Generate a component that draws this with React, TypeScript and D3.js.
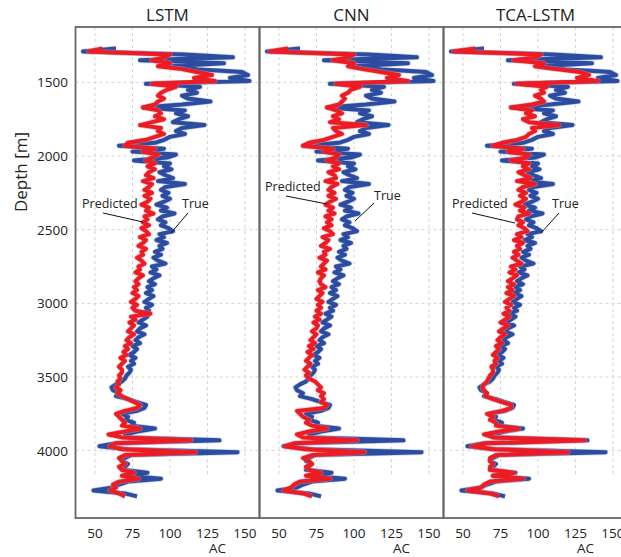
import * as d3 from 'd3';

// depth samples (m), every 20 m
const DEPTHS = d3.range(1270, 4311, 20);

const MODELS = ['LSTM', 'CNN', 'TCA-LSTM'];
const X_TICKS = [50, 75, 100, 125, 150];
const Y_TICKS = [1500, 2000, 2500, 3000, 3500, 4000];

// measured AC log
const TRUE_AC = [
  64, 42, 110, 142, 80, 136, 100, 118, 148, 152,
  140, 153, 84, 120, 112, 118, 108, 112, 127, 108,
  82, 110, 104, 112, 106, 102, 123, 108, 104, 110,
  100, 96, 90, 66, 96, 75, 104, 98, 76, 100,
  96, 101, 93, 97, 102, 92, 110, 97, 94, 99,
  95, 100, 96, 91, 98, 94, 103, 95, 92, 97,
  94, 99, 102, 93, 96, 91, 98, 93, 95, 90,
  94, 89, 92, 97, 88, 91, 87, 93, 89, 86,
  90, 85, 88, 84, 89, 86, 83, 88, 84, 86,
  81, 85, 82, 79, 84, 80, 78, 83, 79, 77,
  80, 75, 78, 76, 73, 77, 74, 76, 72, 74,
  73, 71, 70, 68, 64, 61, 62, 66, 64, 72,
  78, 84, 83, 78, 68, 72, 70, 76, 74, 90,
  78, 70, 72, 133, 64, 53, 72, 145, 74, 70,
  68, 72, 70, 68, 85, 70, 94, 72, 66, 62,
  49, 70, 78,
];

const LSTM_AC = [
  55, 46, 100, 96, 88, 100, 92, 108, 118, 128,
  116, 130, 88, 104, 98, 94, 92, 96, 92, 90,
  82, 92, 94, 90, 96, 88, 80, 94, 92, 96,
  90, 84, 72, 70, 90, 82, 92, 88, 84, 90,
  85, 90, 86, 84, 89, 82, 88, 86, 83, 88,
  83, 87, 85, 81, 86, 84, 89, 83, 85, 82,
  86, 81, 84, 86, 80, 84, 82, 79, 84, 81,
  82, 78, 81, 83, 79, 80, 77, 82, 79, 77,
  79, 76, 78, 75, 79, 77, 74, 78, 75, 77,
  87, 74, 77, 73, 76, 74, 72, 76, 73, 71,
  74, 70, 72, 69, 71, 67, 70, 68, 66, 68,
  68, 66, 67, 65, 66, 64, 67, 65, 68, 72,
  76, 80, 78, 70, 64, 66, 68, 70, 68, 80,
  70, 59, 68, 114, 64, 60, 68, 117, 70, 66,
  68, 70, 66, 68, 76, 68, 79, 66, 62, 64,
  60, 66, 70,
];

const CNN_AC = [
  56, 44, 100, 96, 86, 100, 96, 106, 118, 130,
  122, 136, 88, 104, 98, 96, 92, 94, 92, 90,
  82, 88, 92, 86, 90, 84, 108, 86, 88, 92,
  86, 80, 70, 66, 86, 80, 90, 88, 82, 90,
  86, 90, 83, 87, 88, 81, 89, 85, 83, 87,
  83, 88, 84, 81, 86, 83, 87, 81, 85, 82,
  85, 80, 84, 86, 79, 83, 81, 78, 84, 80,
  81, 77, 82, 80, 78, 81, 76, 80, 78, 77,
  78, 81, 76, 79, 77, 75, 79, 76, 78, 75,
  78, 74, 77, 73, 76, 75, 72, 75, 73, 71,
  74, 70, 73, 69, 72, 70, 68, 71, 69, 67,
  70, 68, 70, 74, 76, 78, 76, 80, 78, 80,
  78, 82, 80, 62, 64, 66, 70, 68, 72, 82,
  70, 62, 66, 102, 60, 54, 68, 107, 72, 66,
  70, 72, 68, 70, 78, 68, 84, 64, 60, 58,
  53, 66, 72,
];

const TCA_AC = [
  58, 44, 102, 98, 84, 104, 98, 112, 128, 134,
  126, 140, 86, 106, 102, 104, 98, 102, 104, 96,
  82, 96, 92, 98, 90, 94, 114, 96, 98, 94,
  92, 86, 76, 70, 90, 80, 94, 92, 82, 94,
  90, 94, 87, 91, 95, 86, 98, 90, 87, 92,
  88, 92, 89, 85, 91, 88, 94, 87, 86, 90,
  87, 91, 93, 86, 89, 84, 90, 86, 88, 84,
  87, 83, 86, 89, 82, 85, 81, 86, 83, 80,
  84, 80, 83, 79, 84, 81, 78, 82, 79, 81,
  77, 81, 78, 75, 80, 77, 74, 78, 75, 73,
  76, 72, 74, 72, 70, 73, 71, 72, 69, 70,
  70, 68, 67, 66, 64, 63, 64, 66, 65, 70,
  76, 82, 82, 76, 66, 70, 68, 72, 72, 87,
  74, 64, 70, 131, 66, 56, 70, 120, 72, 68,
  68, 70, 68, 68, 84, 70, 90, 68, 64, 62,
  53, 68, 74,
];

const PREDICTED = [LSTM_AC, CNN_AC, TCA_AC];

const W = 621;
const H = 557;
const LEFT = 75.5;
const PANEL_W = 184;
const TOP = 27;
const BOTTOM = 518;
const FONT = '"Open Sans", "Noto Sans", sans-serif';
const BLUE = '#2b4c9f';
const RED = '#ec1c24';

// leader-line annotations, per panel
const NOTES = [
  { pred: [82, 208], predLine: [103, 213, 143, 222], tru: [182, 208], truLine: [188, 213, 171, 233] },
  { pred: [265, 191], predLine: [286, 196, 327, 204], tru: [374, 200], truLine: [374, 203, 355, 221] },
  { pred: [452, 208], predLine: [472, 213, 515, 223], tru: [552, 208], truLine: [559, 213, 541, 233] },
];

const y = d3.scaleLinear().domain([1124, 4457]).range([TOP, BOTTOM]);
const x = d3.scaleLinear().domain([37, 159.7]).range([0, PANEL_W]);

const makeLine = (vals: number[]) =>
  d3.line<number>()
    .x((_, i) => x(vals[i]))
    .y((_, i) => y(DEPTHS[i]))
    .curve(d3.curveLinear)(vals) as string;

const Panel = ({ idx }: { idx: number }) => {
  const x0 = LEFT + idx * PANEL_W;
  const n = NOTES[idx];
  return (
    <g>
      <g transform={`translate(${x0},0)`}>
        {X_TICKS.map(t => (
          <line key={'vx' + t} x1={x(t)} x2={x(t)} y1={TOP} y2={y(4165)}
            stroke="#d4d4d4" strokeWidth={1} strokeDasharray="3,3" />
        ))}
        {Y_TICKS.map(t => (
          <line key={'hy' + t} x1={0} x2={PANEL_W} y1={y(t)} y2={y(t)}
            stroke="#d4d4d4" strokeWidth={1} strokeDasharray="3,3" />
        ))}
        <path d={makeLine(TRUE_AC)} fill="none" stroke="#8fa3d6" strokeOpacity={0.5}
          strokeWidth={5.5} strokeLinejoin="round" />
        <path d={makeLine(TRUE_AC)} fill="none" stroke={BLUE} strokeWidth={4} strokeLinejoin="round" />
        <path d={makeLine(PREDICTED[idx])} fill="none" stroke="#f58a8e" strokeOpacity={0.5}
          strokeWidth={5.5} strokeLinejoin="round" />
        <path d={makeLine(PREDICTED[idx])} fill="none" stroke={RED} strokeWidth={4} strokeLinejoin="round" />
        <rect x={0} y={TOP} width={PANEL_W} height={BOTTOM - TOP} fill="none" stroke="#666" strokeWidth={1.8} />
        {X_TICKS.map(t => (
          <text key={'xl' + t} x={x(t)} y={538} textAnchor="middle" fontSize={13.5}
            fontFamily={FONT} fill="#222">{t}</text>
        ))}
        <text x={142} y={553} textAnchor="middle" fontSize={13.5} fontFamily={FONT} fill="#222">AC</text>
        <text x={PANEL_W / 2} y={21} textAnchor="middle" fontSize={17} fontFamily={FONT} fill="#222">
          {MODELS[idx]}
        </text>
      </g>
      <g fontFamily={FONT} fontSize={12.5} fill="#222">
        <text x={n.pred[0]} y={n.pred[1]}>Predicted</text>
        <line x1={n.predLine[0]} y1={n.predLine[1]} x2={n.predLine[2]} y2={n.predLine[3]} stroke="#111" strokeWidth={1} />
        <text x={n.tru[0]} y={n.tru[1]}>True</text>
        <line x1={n.truLine[0]} y1={n.truLine[1]} x2={n.truLine[2]} y2={n.truLine[3]} stroke="#111" strokeWidth={1} />
      </g>
    </g>
  );
};

export default function App() {
  return (
    <div style={{ position: 'absolute', left: 0, top: 0 }}>
      <svg width={W} height={H} style={{ display: 'block', background: '#fff' }}>
        {MODELS.map((_, i) => <Panel key={i} idx={i} />)}
        {Y_TICKS.map(t => (
          <text key={t} x={68} y={y(t) + 5} textAnchor="end" fontSize={13.5}
            fontFamily={FONT} fill="#222">{t}</text>
        ))}
        <text transform={`translate(27,172) rotate(-90)`} textAnchor="middle" fontSize={17}
          fontFamily={FONT} fill="#222">Depth [m]</text>
      </svg>
    </div>
  );
}
